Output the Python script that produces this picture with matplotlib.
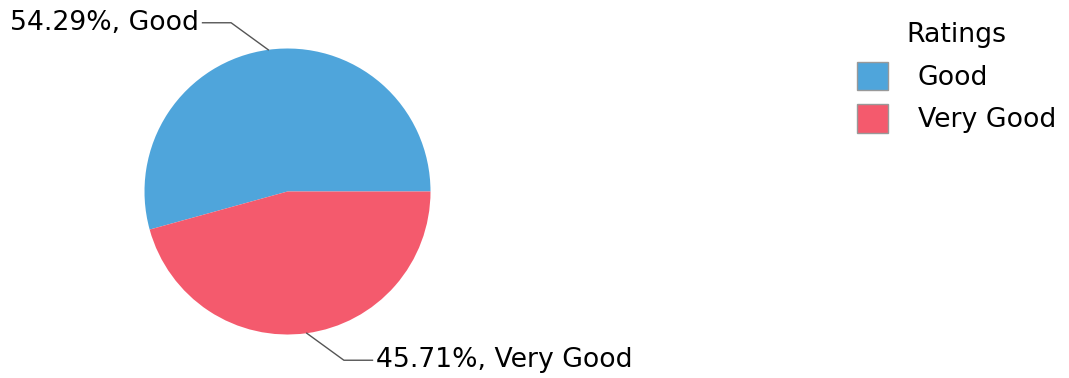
import numpy as np
import matplotlib.pyplot as plt
from matplotlib.patches import Patch

# 数据
labels = ['Good', 'Very Good']
shares = [54.29, 45.71]
colors = ['#4FA5DB', '#F45A6D']

plt.rcParams['font.family'] = ['DejaVu Sans']

W, H = 1069, 378
fig = plt.figure(figsize=(W / 100, H / 100), dpi=100)
cx, cy, r = 287.5, 186.5, 143
ax = fig.add_axes([(cx - r) / W, (cy - r) / H, 2 * r / W, 2 * r / H])
ax.axis('off')

wedges, _ = ax.pie(shares, colors=colors, startangle=0, counterclock=True,
                   radius=1, center=(0, 0), wedgeprops=dict(linewidth=0))
ax.set_xlim(-1, 1)
ax.set_ylim(-1, 1)

# 引线标签
for w, lab, val in zip(wedges, labels, shares):
    ang = np.deg2rad((w.theta1 + w.theta2) / 2)
    x0, y0 = np.cos(ang), np.sin(ang)
    side = np.sign(x0)
    ex, ey = x0 + side * 0.26, np.sign(y0) * 1.18
    hx = ex + side * 0.2
    ax.plot([x0, ex, hx], [y0, ey, ey], color='#555555', lw=1, clip_on=False)
    ax.text(hx + side * 0.025, ey, '%.2f%%, %s' % (val, lab), fontsize=19.2,
            ha='left' if side > 0 else 'right', va='center', clip_on=False)

handles = [Patch(facecolor=c, edgecolor='#999999', linewidth=1) for c in colors]
fig.legend(handles, labels, title='Ratings', loc='upper left',
           bbox_to_anchor=(833 / W, 1 + 2 / H), frameon=False, fontsize=19.3,
           title_fontsize=19.3, handlelength=1.16, handleheight=1.26,
           handletextpad=1.1, labelspacing=0.5)

fig.savefig('out.png', dpi=100)
